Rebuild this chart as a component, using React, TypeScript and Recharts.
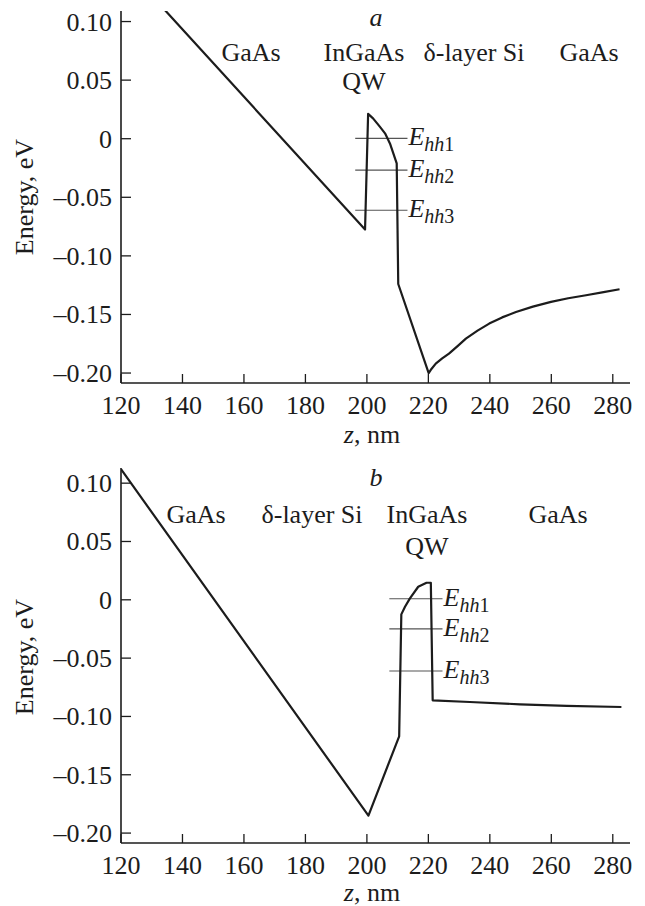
import { Line, LineChart, XAxis, YAxis } from 'recharts'

// panel a: InGaAs QW before the Si delta-layer
const bandA = [
  { z: 134.2, e: 0.11 },
  { z: 199.4, e: -0.0775 },
  { z: 200.4, e: 0.0212 },
  { z: 202.0, e: 0.0174 },
  { z: 204.2, e: 0.0103 },
  { z: 205.9, e: 0.0046 },
  { z: 207.5, e: -0.004 },
  { z: 209.7, e: -0.021 },
  { z: 210.2, e: -0.124 },
  { z: 220.1, e: -0.2 },
  { z: 221.0, e: -0.1965 },
  { z: 222.4, e: -0.192 },
  { z: 224.5, e: -0.1875 },
  { z: 226.7, e: -0.1834 },
  { z: 229.5, e: -0.177 },
  { z: 232.2, e: -0.1706 },
  { z: 236.0, e: -0.1638 },
  { z: 239.8, e: -0.1578 },
  { z: 244.0, e: -0.1525 },
  { z: 248.5, e: -0.1479 },
  { z: 254.0, e: -0.1433 },
  { z: 259.9, e: -0.1393 },
  { z: 265.5, e: -0.1362 },
  { z: 271.3, e: -0.1336 },
  { z: 277.0, e: -0.131 },
  { z: 282.2, e: -0.1285 },
]

// panel b: Si delta-layer before the QW
const bandB = [
  { z: 120, e: 0.112 },
  { z: 200.5, e: -0.185 },
  { z: 210.5, e: -0.117 },
  { z: 211.2, e: -0.0125 },
  { z: 212.4, e: -0.006 },
  { z: 214.0, e: 0.0012 },
  { z: 216.7, e: 0.0112 },
  { z: 219.4, e: 0.0146 },
  { z: 220.8, e: 0.0146 },
  { z: 221.4, e: -0.0862 },
  { z: 233.5, e: -0.0876 },
  { z: 249.8, e: -0.0896 },
  { z: 265.0, e: -0.091 },
  { z: 282.8, e: -0.0919 },
]

const levelNames = ['1', '2', '3']
const levelsA = [0.0003, -0.0268, -0.061]
const levelsB = [0.0009, -0.0249, -0.061]
const levelSpanA = [196.2, 213.2]
const levelSpanB = [207.3, 224.6]

const xTicks = [120, 140, 160, 180, 200, 220, 240, 260, 280]
const yTicks = [0.1, 0.05, 0, -0.05, -0.1, -0.15, -0.2]

const FONT = '"Liberation Serif", "DejaVu Serif", serif'
const INK = '#1c1c1c'

function fmtY(v: number) {
  if (v === 0) return '0'
  const s = Math.abs(v).toFixed(2)
  return v < 0 ? '\u2013' + s : s
}

function XTick({ x, y, payload }: any) {
  return (
    <g>
      <line x1={x} y1={y} x2={x} y2={y - 9} stroke={INK} strokeWidth={1.3} />
      <text x={x} y={y + 31} textAnchor="middle" style={{ fontFamily: FONT, fontSize: 26 }} fill={INK}>
        {payload.value}
      </text>
    </g>
  )
}

function YTick({ x, y, payload }: any) {
  return (
    <g>
      <line x1={x} y1={y} x2={x + 10} y2={y} stroke={INK} strokeWidth={1.3} />
      <text x={x - 9} y={y + 9} textAnchor="end" style={{ fontFamily: FONT, fontSize: 26 }} fill={INK}>
        {fmtY(payload.value)}
      </text>
    </g>
  )
}

function levelLabel(name: string) {
  return (p: any) => {
    if (p.index !== 1) return <g />
    return (
      <text x={p.x + 1} y={p.y + 7} style={{ fontFamily: FONT, fontSize: 26 }} fill={INK}>
        <tspan style={{ fontStyle: 'italic' }}>E</tspan>
        <tspan style={{ fontStyle: 'italic', fontSize: 20 }} dy={6}>hh</tspan>
        <tspan style={{ fontSize: 20 }}>{name}</tspan>
      </text>
    )
  }
}

function Panel({ band, levels, span, top, height, marginTop, plotHeight, yMax }: any) {
  return (
    <div style={{ position: 'absolute', left: 0, top }}>
      <LineChart width={645} height={height} margin={{ top: marginTop, right: 15, bottom: 0, left: 0 }}>
        <XAxis
          type="number"
          dataKey="z"
          domain={[120, 285.6]}
          ticks={xTicks}
          allowDataOverflow
          height={height - marginTop - plotHeight}
          tickSize={0}
          tickMargin={0}
          tick={<XTick />}
          axisLine={{ stroke: INK, strokeWidth: 1.6 }}
          tickLine={false}
        />
        <YAxis
          type="number"
          dataKey="e"
          domain={[-0.2085, yMax]}
          ticks={yTicks}
          allowDataOverflow
          width={121}
          tickSize={0}
          tickMargin={0}
          tick={<YTick />}
          axisLine={{ stroke: INK, strokeWidth: 1.6 }}
          tickLine={false}
        />
        {levels.map((lv: number, i: number) => (
          <Line
            key={levelNames[i]}
            data={[{ z: span[0], e: lv }, { z: span[1], e: lv }]}
            dataKey="e"
            type="linear"
            stroke="#555"
            strokeWidth={1.1}
            dot={false}
            isAnimationActive={false}
            label={levelLabel(levelNames[i])}
          />
        ))}
        <Line
          data={band}
          dataKey="e"
          type="linear"
          stroke={INK}
          strokeWidth={2.2}
          strokeLinejoin="round"
          dot={false}
          isAnimationActive={false}
        />
      </LineChart>
    </div>
  )
}

function Label({ x, y, text, italic, rotate }: any) {
  return (
    <div
      style={{
        position: 'absolute',
        left: x,
        top: y,
        transform: `translate(-50%, -50%)${rotate ? ' rotate(-90deg)' : ''}`,
        fontFamily: FONT,
        fontSize: 26,
        lineHeight: 1,
        whiteSpace: 'nowrap',
        fontStyle: italic ? 'italic' : 'normal',
        color: INK,
      }}
    >
      {text}
    </div>
  )
}

export default function App() {
  return (
    <div style={{ position: 'absolute', left: 0, top: 0, width: 645, height: 906, background: '#fff' }}>
      <Panel band={bandA} levels={levelsA} span={levelSpanA} top={0} height={450} marginTop={11} plotHeight={372} yMax={0.109} />
      <Panel band={bandB} levels={levelsB} span={levelSpanB} top={450} height={456} marginTop={18} plotHeight={375} yMax={0.113} />

      <Label x={376} y={18} text="a" italic />
      <Label x={251} y={53} text="GaAs" />
      <Label x={364} y={53} text="InGaAs" />
      <Label x={364} y={82} text="QW" />
      <Label x={474} y={53} text="δ-layer Si" />
      <Label x={589} y={53} text="GaAs" />
      <Label x={25} y={197} text="Energy, eV" rotate />
      <Label x={372} y={435} text={<><i>z</i>, nm</>} />

      <Label x={376} y={478} text="b" italic />
      <Label x={196} y={515} text="GaAs" />
      <Label x={312} y={515} text="δ-layer Si" />
      <Label x={427} y={515} text="InGaAs" />
      <Label x={427} y={547} text="QW" />
      <Label x={558} y={515} text="GaAs" />
      <Label x={25} y={657} text="Energy, eV" rotate />
      <Label x={372} y={893} text={<><i>z</i>, nm</>} />
    </div>
  )
}
